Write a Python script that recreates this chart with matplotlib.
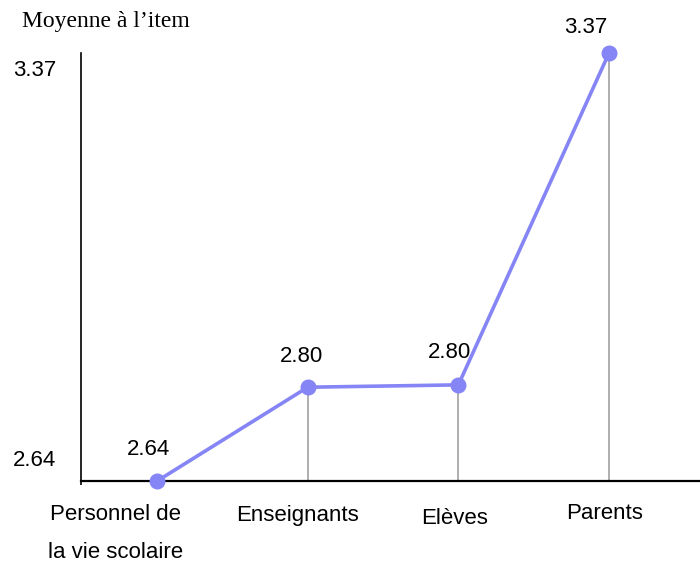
import matplotlib.pyplot as plt

groups = ["Personnel de\nla vie scolaire", "Enseignants", "Elèves", "Parents"]
means = [2.64, 2.80, 2.804, 3.37]
axis_marks = [2.64, 3.37]
axis_title = "Moyenne à l\u2019item"

line_color = "#8585F5"

fig = plt.figure(figsize=(7, 5.63), dpi=100)
ax = fig.add_axes([0.1157, 0.1456, 0.8843, 0.7602])

xs = list(range(len(groups)))
ax.set_xlim(-0.505, 3.604)
ax.set_ylim(2.64, 3.37)

# grey drop lines from each point down to the baseline
for x, v in zip(xs[1:], means[1:]):
    ax.plot([x, x], [2.64, v], color="#999999", lw=1.1, zorder=1)

ax.plot(xs, means, color=line_color, lw=2.6, marker="o", markersize=10.5,
        clip_on=False, zorder=3)

# value labels above the points
offsets = [(-9, 32), (-6, 31), (-9, 32), (-23, 26)]
for x, v, (dx, dy) in zip(xs, means, offsets):
    ax.annotate(f"{v:.2f}", (x, v), xytext=(dx, dy), textcoords="offset pixels",
                ha="center", va="center", fontsize=16, family="Liberation Sans")

# y extremes written beside the axis
for v in axis_marks:
    dy = 21 if v == min(axis_marks) else -17
    ax.annotate(f"{v:.2f}", (0, v), xycoords=("axes fraction", "data"),
                xytext=(-46, dy), textcoords="offset pixels",
                ha="center", va="center", fontsize=16, family="Liberation Sans")

# category labels under the baseline
label_x = [-0.275, 0.929, 1.978, 2.97]
label_dy = [-52.5, -34, -37, -32]
for lx, dy, name in zip(label_x, label_dy, groups):
    ax.annotate(name, (lx, 2.64), xytext=(0, dy), textcoords="offset pixels",
                ha="center", va="center", fontsize=16, family="Liberation Sans",
                linespacing=2.12, annotation_clip=False)

fig.text(22 / 700, 1 - 22 / 563, axis_title, ha="left", va="center",
         fontsize=17, family="Liberation Serif")

for side in ["top", "right"]:
    ax.spines[side].set_visible(False)
ax.spines["left"].set_linewidth(1.2)
ax.spines["bottom"].set_linewidth(1.6)
ax.set_yticks([])
ax.set_xticks([-0.505])
ax.set_xticklabels([""])
ax.tick_params(axis="x", length=3, width=1.2)

fig.savefig("out.png", dpi=100)
